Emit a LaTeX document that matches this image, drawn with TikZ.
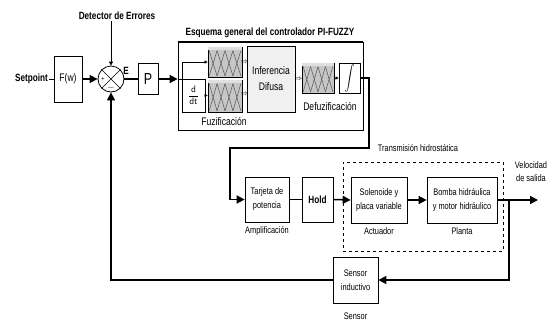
\documentclass[tikz,border=0pt]{standalone}
\usepackage{fontspec}
\setmainfont{Liberation Sans}[FakeStretch=0.78]
\usetikzlibrary{arrows.meta,calc}
\newcommand\fntlow{\fontsize{9.5}{11}\selectfont}
\newcommand\fntfz{\fontsize{11}{13}\selectfont}
\newcommand\fntbd{\fontsize{10.5}{12}\selectfont\bfseries}
\newcommand\fuzzpat[2]{%
  \coordinate (#1bl) at ($(#1.south west)+(1.5,-1.5)$);
  \coordinate (#1br) at ($(#1.south east)+(-1.5,-1.5)$);
  \coordinate (#1tl) at ($(#1.north west)+(1.5,4)$);
  \coordinate (#1tr) at ($(#1.north east)+(-1.5,4)$);
  \fill[gray!25] ($(#1.north west)+(0.4,0.4)$) rectangle ($(#1.north east)+(-0.4,3)$);
  \foreach \i in {1,...,#2}{%
    \pgfmathsetmacro\pa{(\i-1)/#2}%
    \pgfmathsetmacro\pb{\i/#2}%
    \draw[line width=0.45pt,black!70]
      ($(#1bl)!\pa!(#1br)$) -- ($(#1tl)!\pb!(#1tr)$);
    \draw[line width=0.45pt,black!70]
      ($(#1tl)!\pa!(#1tr)$) -- ($(#1bl)!\pb!(#1br)$);
  }}
\begin{document}
\begin{tikzpicture}[x=1pt,y=-1pt,
  box/.style 2 args={draw,line width=0.7pt,fill=white,minimum width=#1,minimum height=#2,inner sep=0pt,align=center,font=\fntlow},
  fzbox/.style 2 args={box={#1}{#2},fill=gray!45},
  sig/.style={line width=1.5pt,-{Triangle[length=8pt,width=8pt]}},
  wire/.style={line width=1.5pt},
  thinsig/.style={line width=0.6pt,-{Triangle[length=3pt,width=3pt]}},
  lbl/.style={font=\fntlow,inner sep=1pt,align=center},
  bdl/.style={font=\fntbd,inner sep=1pt},
  dbl/.style={font=\scriptsize,inner sep=0pt}]
\useasboundingbox (0,0) rectangle (551,322);
\fill[white] (0,0) rectangle (551,322);

% top row
\node[bdl] (det) at (117,16) {Detector de Errores};
\node[bdl,anchor=east] (sp) at (49,79) {Setpoint};
\node[box={28pt}{46pt},font=\fntfz] (fw) at (68,79) {F(w)};
\node[draw,circle,line width=0.8pt,minimum size=26pt,inner sep=0pt] (sum) at (111,79) {};
\draw[line width=0.6pt] (sum.45) -- (sum.225) (sum.135) -- (sum.315);
\node[font=\scriptsize,inner sep=0pt] (plus) at (103,79) {+};
\node[font=\small,inner sep=0pt] (minus) at (111,88) {$-$};
\node[bdl] (elab) at (126,71) {E};
\node[box={20pt}{31pt},font=\fontsize{16}{18}\selectfont] (p) at (148,79) {P};

% PI-FUZZY block
\node[bdl] (title) at (270,33) {Esquema general del controlador PI-FUZZY};
\node[box={185pt}{88pt}] (big) at (270.5,86) {};
\draw[line width=1.6pt] (big.north west) -- (big.north east);
\node[fzbox={34pt}{30pt}] (fz1) at (225,62) {};
\node[fzbox={34pt}{32pt}] (fz2) at (225,96) {};
\fuzzpat{fz1}{4}
\fuzzpat{fz2}{4}
\node[box={23pt}{33pt}] (dd) at (193.5,95.5) {$\displaystyle\frac{\mathsf{d}}{\mathsf{dt}}$};
\node[box={48pt}{66pt},fill=gray!12,font=\fntfz] (inf) at (271,79) {Inferencia\\[3pt]Difusa};
\node[fzbox={32pt}{30pt}] (dfz) at (318,78) {};
\fuzzpat{dfz}{4}
\node[box={21pt}{30pt}] (int) at (349.5,78) {\scalebox{1}[1.25]{$\displaystyle\int$}};
\node[dbl] (a1) at (244.5,62) {$\Rightarrow$};
\node[dbl] (a2) at (244.5,94) {$\Rightarrow$};
\node[dbl] (a3) at (298.5,79) {$\Rightarrow$};
\node[lbl,font=\fntfz] (fuzl) at (224,121) {Fuzificación};
\node[lbl,font=\fntfz] (dfzl) at (330,106) {Defuzificación};

% connectors top
\draw[line width=0.8pt,-{Triangle[length=4pt,width=4pt]}] (det.south -| sum.north) -- (sum.north);
\draw[line width=1pt] (sp.east) -- (fw.west);
\draw[sig] (fw.east) -- (sum.west);
\draw[wire] (sum.east) -- (p.west);
\coordinate (bin) at (p.east -| big.west);
\draw[sig] (p.east) -- (bin);
\draw[thinsig] (bin) -- ++(5,0) |- (fz1.west);
\draw[thinsig] (dd.east) -- (dd.east -| fz2.west);
\draw[thinsig] (dfz.east) -- (int.west);

% lower row
\node[draw,dashed,line width=0.6pt,minimum width=160pt,minimum height=89pt,inner sep=0pt] (dash) at (423,206.5) {};
\node[lbl] (trans) at (418,148) {Transmisión hidrostática};
\node[box={44pt}{45pt}] (tar) at (267,199.5) {Tarjeta de\\[3pt]potencia};
\node[box={31pt}{45pt},font=\fntbd] (hold) at (317.5,199.5) {Hold};
\node[box={56pt}{46pt}] (sol) at (379,200) {Solenoide y\\[3pt]placa variable};
\node[box={70pt}{46pt}] (bom) at (462,200) {Bomba hidráulica\\[3pt]y motor hidráulico};
\node[lbl] (ampl) at (267,231) {Amplificación};
\node[lbl] (act) at (379,231) {Actuador};
\node[lbl] (plan) at (462,231) {Planta};
\node[lbl] (vel) at (531,171.5) {Velocidad\\[2pt]de salida};
\node[box={45pt}{46pt}] (sen) at (355.5,280) {Sensor\\[3pt]inductivo};
\node[lbl] (senl) at (355.5,316) {Sensor};

% connectors lower
\coordinate (c1) at (369,78);
\coordinate (c2) at (369,148);
\coordinate (c3) at (230,148);
\draw[sig] (int.east) -- (c1) -- (c2) -- (c3) |- (tar.west);
\draw[wire] (tar.east) -- (hold.west);
\draw[sig] (hold.east) -- (sol.west);
\draw[sig] (sol.east) -- (bom.west);
\coordinate (out) at (538,200);
\coordinate (br) at (509,200);
\draw[sig] (bom.east) -- (out);
\draw[sig] (br) |- (sen.east);
\draw[sig] (sen.west) -| (sum.south);
\end{tikzpicture}
\end{document}
